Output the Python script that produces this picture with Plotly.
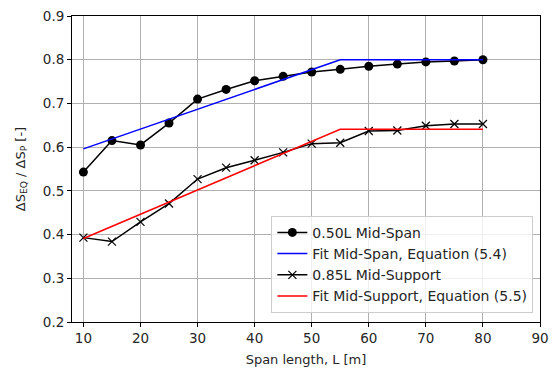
import plotly.graph_objects as go

span = [10, 15, 20, 25, 30, 35, 40, 45, 50, 55, 60, 65, 70, 75, 80]
mid_span = [0.543, 0.615, 0.605, 0.655, 0.710, 0.732, 0.752, 0.762, 0.772, 0.778, 0.785, 0.790, 0.795, 0.797, 0.800]
mid_support = [0.393, 0.384, 0.429, 0.471, 0.527, 0.553, 0.570, 0.588, 0.608, 0.610, 0.637, 0.638, 0.649, 0.653, 0.653]

fit_x = [10, 55, 80]
fit_mid_span = [0.596, 0.800, 0.800]
fit_mid_support = [0.391, 0.641, 0.641]

x_ticks = [10, 20, 30, 40, 50, 60, 70, 80, 90]
y_ticks = [0.2, 0.3, 0.4, 0.5, 0.6, 0.7, 0.8, 0.9]

fig = go.Figure()
fig.add_trace(go.Scatter(x=span, y=mid_span, mode="lines+markers", name="0.50L Mid-Span",
                         line=dict(color="black", width=1.5),
                         marker=dict(symbol="circle", size=9, color="black")))
fig.add_trace(go.Scatter(x=fit_x, y=fit_mid_span, mode="lines", name="Fit Mid-Span, Equation (5.4)",
                         line=dict(color="blue", width=1.5)))
fig.add_trace(go.Scatter(x=span, y=mid_support, mode="lines+markers", name="0.85L Mid-Support",
                         line=dict(color="black", width=1.5),
                         marker=dict(symbol="x-thin", size=8, color="black",
                                     line=dict(color="black", width=1.2))))
fig.add_trace(go.Scatter(x=fit_x, y=fit_mid_support, mode="lines", name="Fit Mid-Support, Equation (5.5)",
                         line=dict(color="red", width=1.5)))

axis_common = dict(showgrid=True, gridcolor="#b0b0b0", gridwidth=1, showline=True, linecolor="black",
                   linewidth=1, mirror=True, ticks="outside", ticklen=4, tickcolor="black",
                   tickfont=dict(size=13.5, color="#262626"), zeroline=False,
                   ticklabeloverflow="allow")

fig.update_layout(
    width=557, height=372,
    margin=dict(l=72, r=8, t=14, b=48),
    paper_bgcolor="white", plot_bgcolor="white",
    font=dict(family="DejaVu Sans", size=13, color="#262626"),
    xaxis=dict(range=[8, 90], tickvals=x_ticks,
               title=dict(text="Span length, L [m]", font=dict(size=13), standoff=9), **axis_common),
    yaxis=dict(range=[0.2, 0.9], tickvals=y_ticks, tickformat=".1f",
               title=dict(text="ΔS<sub>EQ</sub> / ΔS<sub>P</sub> [-]", font=dict(size=13), standoff=14),
               **axis_common),
    legend=dict(x=0.426, y=0.03, xanchor="left", yanchor="bottom",
                bgcolor="rgba(255,255,255,0.8)", bordercolor="#cccccc", borderwidth=1,
                font=dict(size=14, color="#262626"), tracegroupgap=0, itemwidth=30),
    showlegend=True,
)

fig.write_html("out.html")
